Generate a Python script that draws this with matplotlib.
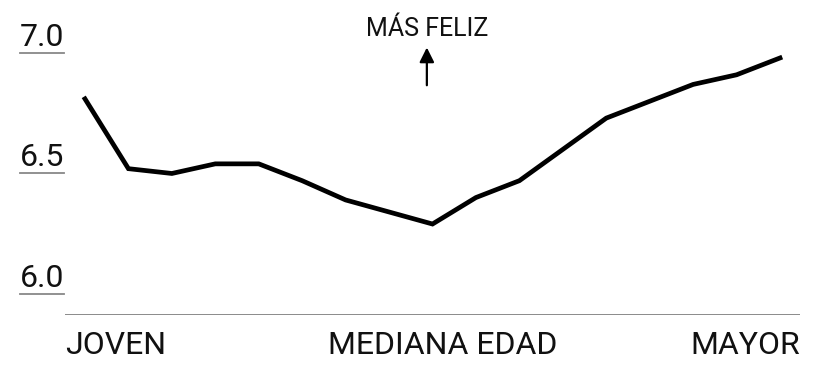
import matplotlib.pyplot as plt

plt.rcParams['font.family'] = ['Roboto', 'DejaVu Sans']

# happiness over the life course (17 age steps)
steps = list(range(17))
happiness = [6.81, 6.52, 6.50, 6.54, 6.54, 6.47, 6.39, 6.34, 6.29,
             6.40, 6.47, 6.60, 6.73, 6.80, 6.87, 6.91, 6.98]

y_ticks = [7.0, 6.5, 6.0]
y_labels = ['7.0', '6.5', '6.0']
x_labels = ['JOVEN', 'MEDIANA EDAD', 'MAYOR']

W, H = 825, 382
fig = plt.figure(figsize=(W / 100, H / 100), dpi=100)
left, right, bottom, top = 65, 800, 315, 5
ax = fig.add_axes([left / W, (H - bottom) / H, (right - left) / W, (bottom - top) / H])

ax.plot(steps, happiness, color='black', lw=3.4, solid_joinstyle='miter')
ax.set_xlim(-0.46, 16.46)
ax.set_ylim(5.912, 7.2)

for s in ax.spines.values():
    s.set_visible(False)
ax.axhline(5.912, color='#777777', lw=1.2)
ax.set_xticks([])
ax.set_yticks([])

# y labels with short underlines
ytr = ax.get_yaxis_transform()
for v, lab in zip(y_ticks, y_labels):
    ax.plot([-0.061, -0.001], [v, v], color='#888888', lw=1.3,
            transform=ytr, clip_on=False)
    ax.text(-0.061, v + 0.03, lab, transform=ytr, fontsize=23,
            ha='left', va='baseline', color='#111111')

# x labels
ax.text(0, -0.125, x_labels[0], transform=ax.transAxes, fontsize=23,
        ha='left', va='baseline', color='#111111')
ax.text(0.514, -0.125, x_labels[1], transform=ax.transAxes, fontsize=23,
        ha='center', va='baseline', color='#111111')
ax.text(1, -0.125, x_labels[2], transform=ax.transAxes, fontsize=23,
        ha='right', va='baseline', color='#111111')

# annotation
ax.annotate('', xy=(7.87, 7.035), xytext=(7.87, 6.855),
            arrowprops=dict(arrowstyle='-|>', color='black', lw=1.6,
                            mutation_scale=22))
ax.text(7.87, 7.07, 'MÁS FELIZ', fontsize=18, ha='center', va='baseline',
        color='#111111')

fig.savefig('out.png', dpi=100)
